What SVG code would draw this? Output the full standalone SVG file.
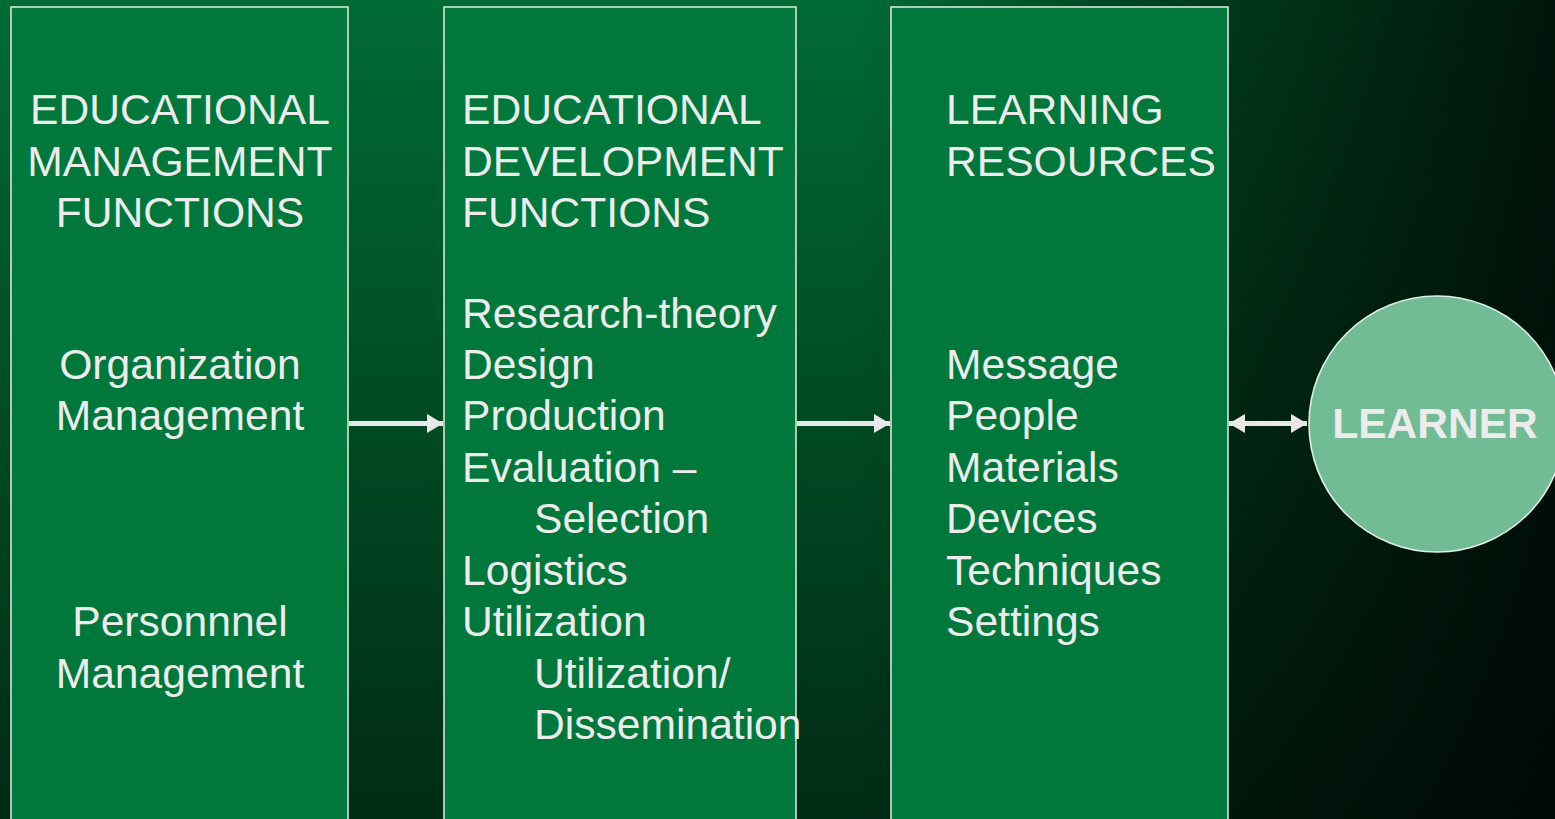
<svg xmlns="http://www.w3.org/2000/svg" width="1555" height="819" viewBox="0 0 1555 819">
<defs>
<linearGradient id="bgV" x1="0" y1="0" x2="0" y2="1">
<stop offset="0" stop-color="#006b35"/>
<stop offset="0.5" stop-color="#004b24"/>
<stop offset="1" stop-color="#002b15"/>
</linearGradient>
<linearGradient id="bgH" x1="0" y1="0" x2="1555" y2="0" gradientUnits="userSpaceOnUse">
<stop offset="0" stop-color="#000" stop-opacity="0"/>
<stop offset="0.55" stop-color="#000" stop-opacity="0"/>
<stop offset="0.8" stop-color="#000" stop-opacity="0.5"/>
<stop offset="1" stop-color="#000" stop-opacity="0.8"/>
</linearGradient>
<marker id="ah" viewBox="0 0 16 19" refX="16" refY="9.5" markerWidth="16" markerHeight="19" markerUnits="userSpaceOnUse" orient="auto-start-reverse">
<path d="M0,0 L16,9.5 L0,19 Z" fill="#e8e8e8"/>
</marker>
<style>
.box{fill:#00773b;stroke:#d5e6da;stroke-width:1.6}
.t{font-family:"Liberation Sans",Arial,sans-serif;font-size:42.6px;fill:#ececec}
.c{text-anchor:middle}
.lb{font-family:"Liberation Sans",Arial,sans-serif;font-size:42.5px;font-weight:bold;fill:#ececec;text-anchor:middle}
.arr{stroke:#e8e8e8;stroke-width:5;fill:none}
</style>
</defs>
<rect width="1555" height="819" fill="url(#bgV)"/>
<rect width="1555" height="819" fill="url(#bgH)"/>

<g id="mgmt">
<rect class="box" x="11" y="7" width="337" height="830"/>
<text class="t c" x="180" y="124">EDUCATIONAL</text>
<text class="t c" x="180" y="175.5">MANAGEMENT</text>
<text class="t c" x="180" y="227">FUNCTIONS</text>
<text class="t c" x="180" y="379">Organization</text>
<text class="t c" x="180" y="430">Management</text>
<text class="t c" x="180" y="636">Personnnel</text>
<text class="t c" x="180" y="687.5">Management</text>
</g>

<g id="dev">
<rect class="box" x="444" y="7" width="352" height="830"/>
<text class="t" x="462" y="124">EDUCATIONAL</text>
<text class="t" x="462" y="175.5">DEVELOPMENT</text>
<text class="t" x="462" y="227">FUNCTIONS</text>
<text class="t" x="462" y="327.5">Research-theory</text>
<text class="t" x="462" y="379">Design</text>
<text class="t" x="462" y="430">Production</text>
<text class="t" x="462" y="482">Evaluation –</text>
<text class="t" x="534" y="533">Selection</text>
<text class="t" x="462" y="585">Logistics</text>
<text class="t" x="462" y="636">Utilization</text>
<text class="t" x="534" y="687.5">Utilization/</text>
<text class="t" x="534" y="739">Dissemination</text>
</g>

<g id="resources">
<rect class="box" x="891" y="7" width="337" height="830"/>
<text class="t" x="946" y="124">LEARNING</text>
<text class="t" x="946" y="175.5">RESOURCES</text>
<text class="t" x="946" y="379">Message</text>
<text class="t" x="946" y="430">People</text>
<text class="t" x="946" y="482">Materials</text>
<text class="t" x="946" y="533">Devices</text>
<text class="t" x="946" y="585">Techniques</text>
<text class="t" x="946" y="636">Settings</text>
</g>

<g id="learner">
<circle cx="1437" cy="424" r="128" fill="#71bb95" stroke="#dfeee4" stroke-width="1.6"/>
<text class="lb" x="1435" y="438">LEARNER</text>
</g>

<g id="connectors">
<line class="arr" x1="349" y1="423.5" x2="443" y2="423.5" marker-end="url(#ah)"/>
<line class="arr" x1="797" y1="423.5" x2="890" y2="423.5" marker-end="url(#ah)"/>
<line class="arr" x1="1229" y1="423.5" x2="1307" y2="423.5" marker-start="url(#ah)" marker-end="url(#ah)"/>
</g>
</svg>
